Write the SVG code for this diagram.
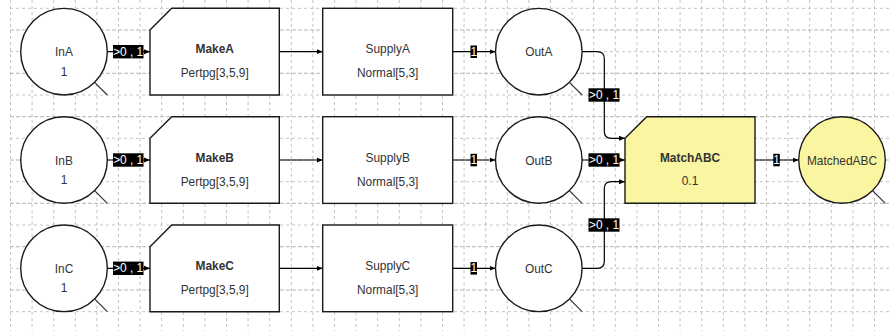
<svg xmlns="http://www.w3.org/2000/svg" width="889" height="331" viewBox="0 0 889 331">
  <style>
    .grid { fill: none; stroke: #c4c4c4; stroke-width: 1; stroke-dasharray: 3 3; }
    .grid2 { fill: none; stroke: #b4b4b4; stroke-width: 1; stroke-dasharray: 4 2; }
    .shape { fill: #ffffff; stroke: #1a1a1a; stroke-width: 1.4; }
    .yellow { fill: #f9f5a0; }
    .tail { fill: none; stroke: #333333; stroke-width: 1.2; }
    .edge { fill: none; stroke: #000000; stroke-width: 1.2; marker-end: url(#arrow); }
    .tag { fill: #000000; }
    .tagtext { font-family: "Liberation Sans", Arial, sans-serif; font-size: 11.9px; fill: #ffffff; text-anchor: middle; dominant-baseline: central; }
    .name { font-family: "Liberation Sans", Arial, sans-serif; font-size: 11.9px; fill: #333333; text-anchor: middle; dominant-baseline: central; }
    .bold { font-weight: bold; }
  </style>
  <defs>
    <marker id="arrow" markerUnits="userSpaceOnUse" markerWidth="7" markerHeight="6" refX="6" refY="3" orient="auto">
      <path d="M0,0.5 L6,3 L0,5.5 z" fill="#000000"/>
    </marker>
    <!-- source circle: radius 43.3 with a short tail line at the lower right -->
    <g id="tankShape">
      <circle cx="0" cy="0" r="43.3"/>
    </g>
  </defs>

  <rect x="0" y="0" width="889" height="331" fill="#ffffff"/>

  <!-- background grid -->
  <g id="grid">
    <path class="grid" d="M10.5,0V331 M53.7,0V331 M96.9,0V331 M140.1,0V331 M183.3,0V331 M226.5,0V331 M269.7,0V331 M312.9,0V331 M356.1,0V331 M399.3,0V331 M442.5,0V331 M485.7,0V331 M528.9,0V331 M572.1,0V331 M615.3,0V331 M658.5,0V331 M701.7,0V331 M744.9,0V331 M788.1,0V331 M831.3,0V331 M874.5,0V331"/>
    <path class="grid" d="M32.1,0V331 M75.3,0V331 M118.5,0V331 M161.7,0V331 M204.9,0V331 M248.1,0V331 M291.3,0V331 M334.5,0V331 M377.7,0V331 M420.9,0V331 M464.1,0V331 M507.3,0V331 M550.5,0V331 M593.7,0V331 M636.9,0V331 M680.1,0V331 M723.3,0V331 M766.5,0V331 M809.7,0V331 M852.9,0V331"/>
    <path class="grid" d="M10,8.3H889 M10,51.7H889 M10,95H889 M10,138.3H889 M10,181.7H889 M10,225H889 M10,268.3H889 M10,311.7H889"/>
    <path class="grid2" d="M10,30H889 M10,73.3H889 M10,116.7H889 M10,160H889 M10,203.3H889 M10,246.7H889 M10,290H889"/>
  </g>

  <!-- connectors -->
  <g id="connectors">
    <path class="edge" d="M107.3,51.7H150"/>
    <path class="edge" d="M107.3,160H150"/>
    <path class="edge" d="M107.3,268.3H150"/>
    <path class="edge" d="M279.3,51.7H322.7"/>
    <path class="edge" d="M279.3,160H322.7"/>
    <path class="edge" d="M279.3,268.3H322.7"/>
    <path class="edge" d="M452.7,51.7H495.5"/>
    <path class="edge" d="M452.7,160H495.5"/>
    <path class="edge" d="M452.7,268.3H495.5"/>
    <path class="edge" d="M582.1,51.7H597.3Q604.3,51.7 604.3,58.7V131.3Q604.3,138.3 611.3,138.3H625"/>
    <path class="edge" d="M582.1,160H625"/>
    <path class="edge" d="M582.1,268.3H597.3Q604.3,268.3 604.3,261.3V188.7Q604.3,181.7 611.3,181.7H625"/>
    <path class="edge" d="M755,160H798.7"/>

    <!-- flow labels -->
    <rect class="tag" x="113" y="45" width="30.5" height="13.4"/>
    <text class="tagtext" x="128.2" y="51.7">&gt;0 , 1</text>
    <rect class="tag" x="113" y="153.3" width="30.5" height="13.4"/>
    <text class="tagtext" x="128.2" y="160">&gt;0 , 1</text>
    <rect class="tag" x="113" y="261.6" width="30.5" height="13.4"/>
    <text class="tagtext" x="128.2" y="268.3">&gt;0 , 1</text>

    <rect class="tag" x="470.5" y="45.5" width="6.5" height="12.5"/>
    <text class="tagtext" x="473.8" y="51.7">1</text>
    <rect class="tag" x="470.5" y="153.8" width="6.5" height="12.5"/>
    <text class="tagtext" x="473.8" y="160">1</text>
    <rect class="tag" x="470.5" y="262.1" width="6.5" height="12.5"/>
    <text class="tagtext" x="473.8" y="268.3">1</text>

    <rect class="tag" x="588.5" y="88.3" width="31" height="13.4"/>
    <text class="tagtext" x="604" y="95">&gt;0 , 1</text>
    <rect class="tag" x="588.5" y="153.3" width="31" height="13.4"/>
    <text class="tagtext" x="604" y="160">&gt;0 , 1</text>
    <rect class="tag" x="588.5" y="218.3" width="31" height="13.4"/>
    <text class="tagtext" x="604" y="225">&gt;0 , 1</text>

    <rect class="tag" x="773.3" y="153.8" width="6.5" height="12.5"/>
    <text class="tagtext" x="776.6" y="160">1</text>
  </g>

  <!-- sources -->
  <g id="InA">
    <circle class="shape" cx="64" cy="51.7" r="43.3"/>
    <path class="tail" d="M94.6,82.3L107.3,95"/>
    <text class="name" x="64" y="52.3">InA</text>
    <text class="name" x="64" y="71.7">1</text>
  </g>
  <g id="InB">
    <circle class="shape" cx="64" cy="160" r="43.3"/>
    <path class="tail" d="M94.6,190.6L107.3,203.3"/>
    <text class="name" x="64" y="160.6">InB</text>
    <text class="name" x="64" y="180">1</text>
  </g>
  <g id="InC">
    <circle class="shape" cx="64" cy="268.3" r="43.3"/>
    <path class="tail" d="M94.6,298.9L107.3,311.7"/>
    <text class="name" x="64" y="268.9">InC</text>
    <text class="name" x="64" y="288.3">1</text>
  </g>

  <!-- producers -->
  <g id="MakeA">
    <path class="shape" d="M150,30L171.7,8.3H279.3V95H150Z"/>
    <text class="name bold" x="214.7" y="49.3">MakeA</text>
    <text class="name" x="214.7" y="73.3">Pertpg[3,5,9]</text>
  </g>
  <g id="MakeB">
    <path class="shape" d="M150,138.3L171.7,116.7H279.3V203.3H150Z"/>
    <text class="name bold" x="214.7" y="157.6">MakeB</text>
    <text class="name" x="214.7" y="181.6">Pertpg[3,5,9]</text>
  </g>
  <g id="MakeC">
    <path class="shape" d="M150,246.7L171.7,225H279.3V311.7H150Z"/>
    <text class="name bold" x="214.7" y="265.9">MakeC</text>
    <text class="name" x="214.7" y="289.9">Pertpg[3,5,9]</text>
  </g>

  <!-- suppliers -->
  <g id="SupplyA">
    <rect class="shape" x="322.7" y="8.3" width="130" height="86.7"/>
    <text class="name" x="387.7" y="49.3">SupplyA</text>
    <text class="name" x="387.7" y="73.3">Normal[5,3]</text>
  </g>
  <g id="SupplyB">
    <rect class="shape" x="322.7" y="116.7" width="130" height="86.7"/>
    <text class="name" x="387.7" y="157.6">SupplyB</text>
    <text class="name" x="387.7" y="181.6">Normal[5,3]</text>
  </g>
  <g id="SupplyC">
    <rect class="shape" x="322.7" y="225" width="130" height="86.7"/>
    <text class="name" x="387.7" y="265.9">SupplyC</text>
    <text class="name" x="387.7" y="289.9">Normal[5,3]</text>
  </g>

  <!-- output buffers -->
  <g id="OutA">
    <circle class="shape" cx="538.8" cy="51.7" r="43.3"/>
    <path class="tail" d="M569.4,82.3L582.1,95"/>
    <text class="name" x="538.8" y="52.3">OutA</text>
  </g>
  <g id="OutB">
    <circle class="shape" cx="538.8" cy="160" r="43.3"/>
    <path class="tail" d="M569.4,190.6L582.1,203.3"/>
    <text class="name" x="538.8" y="160.6">OutB</text>
  </g>
  <g id="OutC">
    <circle class="shape" cx="538.8" cy="268.3" r="43.3"/>
    <path class="tail" d="M569.4,298.9L582.1,311.7"/>
    <text class="name" x="538.8" y="268.9">OutC</text>
  </g>

  <!-- matcher and its output -->
  <g id="MatchABC">
    <path class="shape yellow" d="M625,138.3L646.7,116.7H755V203.3H625Z"/>
    <text class="name bold" x="690" y="157.6">MatchABC</text>
    <text class="name" x="690" y="181">0.1</text>
  </g>
  <g id="MatchedABC">
    <circle class="shape yellow" cx="842" cy="160" r="43.3"/>
    <path class="tail" d="M872.6,190.6L885.3,203.3"/>
    <text class="name" x="842" y="160.6">MatchedABC</text>
  </g>
</svg>
